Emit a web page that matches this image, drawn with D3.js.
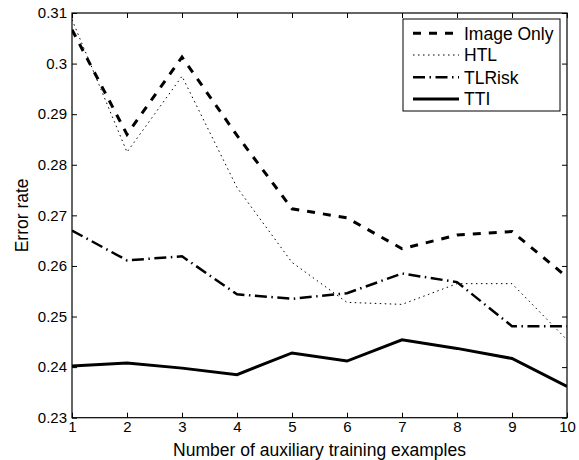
<!DOCTYPE html>
<html>
<head>
<meta charset="utf-8">
<script src="https://cdn.jsdelivr.net/npm/d3@7/dist/d3.min.js"></script>
<style>
  html, body { margin: 0; padding: 0; background: #fff; }
  svg { display: block; }
  text { font-family: "Liberation Sans", Arial, Helvetica, sans-serif; fill: #000; }
</style>
</head>
<body>
<svg id="chart" width="579" height="460"></svg>
<script>
// ---- data ----
const xValues = [1, 2, 3, 4, 5, 6, 7, 8, 9, 10];
const imageOnly = [0.3067, 0.2860, 0.3013, 0.2858, 0.2713, 0.2695, 0.2634, 0.2661, 0.2668, 0.2578];
const htl       = [0.3087, 0.2825, 0.2975, 0.2755, 0.2607, 0.2528, 0.2524, 0.2565, 0.2565, 0.2454];
const tlrisk    = [0.2670, 0.2611, 0.2619, 0.2544, 0.2535, 0.2546, 0.2585, 0.2568, 0.2481, 0.2481];
const tti       = [0.2402, 0.2408, 0.2398, 0.2385, 0.2428, 0.2412, 0.2454, 0.2437, 0.2417, 0.2362];
const seriesNames = ["Image Only", "HTL", "TLRisk", "TTI"];
const xTicks = [1, 2, 3, 4, 5, 6, 7, 8, 9, 10];
const yTicks = [0.23, 0.24, 0.25, 0.26, 0.27, 0.28, 0.29, 0.30, 0.31];
const xLabel = "Number of auxiliary training examples";
const yLabel = "Error rate";

// ---- layout ----
const L = 72, R = 567, T = 13, B = 417.7;
const svg = d3.select("#chart");
const x = d3.scaleLinear().domain([1, 10]).range([L, R]);
const y = d3.scaleLinear().domain([0.23, 0.31]).range([B, T]);

const styles = [
  { width: 3,   dash: "8,8" },
  { width: 1,   dash: "1.5,3.5" },
  { width: 2.5, dash: "12,4.5,1.5,4.5" },
  { width: 3,   dash: null }
];
const allSeries = [imageOnly, htl, tlrisk, tti];

// axes with inward ticks
const fmt = d => d3.format(".2f")(d).replace(/0$/, "");
const gx = svg.append("g").attr("transform", `translate(0,${B})`)
  .call(d3.axisBottom(x).tickValues(xTicks).tickSizeInner(-5).tickSizeOuter(0).tickPadding(4).tickFormat(d3.format("d")));
const gy = svg.append("g").attr("transform", `translate(${L},0)`)
  .call(d3.axisLeft(y).tickValues(yTicks).tickSizeInner(-5).tickSizeOuter(0).tickPadding(5).tickFormat(fmt));
const gxt = svg.append("g").attr("transform", `translate(0,${T})`)
  .call(d3.axisTop(x).tickValues(xTicks).tickSizeInner(-5).tickSizeOuter(0).tickFormat(""));
const gyr = svg.append("g").attr("transform", `translate(${R},0)`)
  .call(d3.axisRight(y).tickValues(yTicks).tickSizeInner(-5).tickSizeOuter(0).tickFormat(""));
[gx, gy, gxt, gyr].forEach(g => {
  g.select(".domain").remove();
  g.selectAll("line").attr("stroke", "#000").attr("stroke-width", 1);
  g.selectAll("text").style("font-size", "15px").attr("fill", "#000")
    .style("font-family", '"Liberation Sans", Arial, sans-serif');
});

// clip
svg.append("clipPath").attr("id", "clip").append("rect")
  .attr("x", L).attr("y", T).attr("width", R - L).attr("height", B - T);

const line = d3.line().x((d, i) => x(xValues[i])).y(d => y(d));
allSeries.forEach((s, k) => {
  svg.append("path").datum(s)
    .attr("clip-path", "url(#clip)")
    .attr("d", line)
    .attr("fill", "none")
    .attr("stroke", "#000")
    .attr("stroke-width", styles[k].width)
    .attr("stroke-dasharray", styles[k].dash)
    .attr("stroke-linejoin", "miter");
});

// box
svg.append("rect").attr("x", L).attr("y", T).attr("width", R - L).attr("height", B - T)
  .attr("fill", "none").attr("stroke", "#000").attr("stroke-width", 1.2);

// axis labels
svg.append("text").attr("x", (L + R) / 2).attr("y", 456)
  .attr("text-anchor", "middle").style("font-size", "17.5px").text(xLabel);
svg.append("text").attr("transform", `translate(28,${(T + B) / 2}) rotate(-90)`)
  .attr("text-anchor", "middle").style("font-size", "17.5px").text(yLabel);

// legend
const lg = svg.append("g");
lg.append("rect").attr("x", 403).attr("y", 19).attr("width", 157).attr("height", 92)
  .attr("fill", "#fff").attr("stroke", "#000").attr("stroke-width", 1);
const rowY = [33.3, 55, 77.3, 99];
seriesNames.forEach((name, k) => {
  lg.append("line").attr("x1", 413).attr("x2", 459).attr("y1", rowY[k]).attr("y2", rowY[k])
    .attr("stroke", "#000").attr("stroke-width", styles[k].width)
    .attr("stroke-dasharray", styles[k].dash);
  lg.append("text").attr("x", 464).attr("y", rowY[k] + 6.3)
    .style("font-size", "17.5px").text(name);
});
</script>
</body>
</html>
